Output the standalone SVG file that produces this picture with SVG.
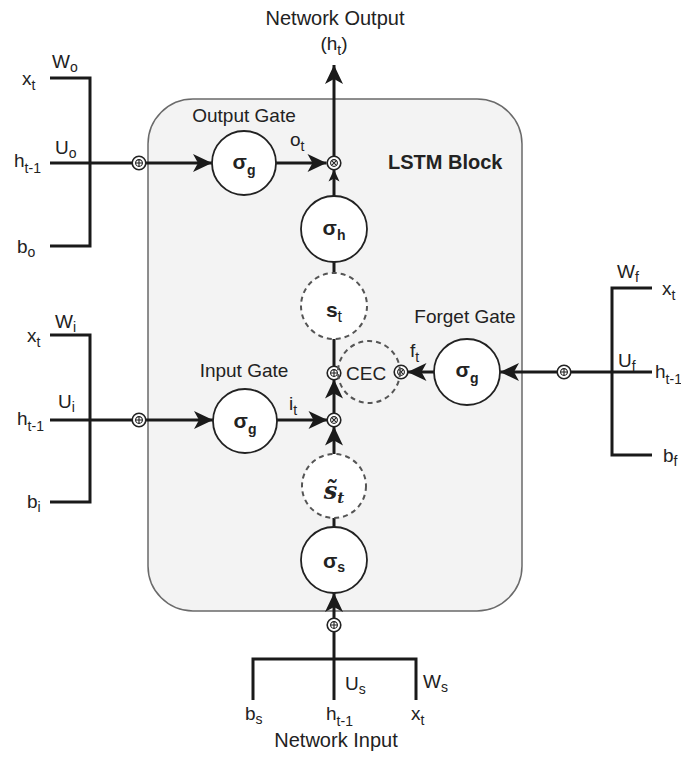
<svg xmlns="http://www.w3.org/2000/svg" width="681" height="757" viewBox="0 0 681 757">
<defs>
<style>
text{font-family:"Liberation Sans",Arial,sans-serif;fill:#222}
.lbl{font-size:19px}
.sub{font-size:14px}
.sig{font-size:21px;font-weight:bold}
.sigsub{font-size:14px;font-weight:bold}
.wire{stroke:#1a1a1a;stroke-width:3;fill:none}
.arr{stroke:#1a1a1a;stroke-width:3;fill:none;marker-end:url(#ah)}
.arrs{stroke:#1a1a1a;stroke-width:3;fill:none;marker-end:url(#ahs)}
.node{fill:#fff;stroke:#222;stroke-width:1.8}
.dash{fill:#fff;stroke:#555;stroke-width:2;stroke-dasharray:5 4}
.op{fill:#fff;stroke:#222;stroke-width:1.6}
.opi{fill:none;stroke:#222;stroke-width:1.1}
</style>
<marker id="ah" markerUnits="userSpaceOnUse" markerWidth="19" markerHeight="18" refX="19" refY="9" orient="auto" overflow="visible">
<path d="M0,0 L19,9 L0,18 L5,9 z" fill="#1a1a1a"/>
</marker>
<marker id="ahs" markerUnits="userSpaceOnUse" markerWidth="12" markerHeight="11" refX="12" refY="5.5" orient="auto" overflow="visible">
<path d="M0,0 L12,5.5 L0,11 L3,5.5 z" fill="#1a1a1a"/>
</marker>
<g id="plus"><circle r="6.8" class="op"/><circle r="3.4" class="opi"/><path d="M-3.4,0H3.4M0,-3.4V3.4" class="opi"/></g>
<g id="times"><circle r="6.8" class="op"/><circle r="3.4" class="opi"/><path d="M-2.4,-2.4L2.4,2.4M-2.4,2.4L2.4,-2.4" class="opi"/></g>
</defs>

<g id="lstm-block">
<rect x="148" y="99" width="374" height="512" rx="45" ry="45" fill="#f3f3f3" stroke="#6a6a6a" stroke-width="1.5"/>
<text x="388" y="169" style="font-size:20px;font-weight:bold">LSTM Block</text>
</g>

<g id="connectors">
<path class="wire" d="M50,78H90V246H50"/>
<path class="wire" d="M50,163H132.5"/>
<path class="arr" d="M145.5,163H212"/>
<path class="arr" d="M276,163H326.5"/>
<path class="arr" d="M334,156.5V65"/>
<path class="arrs" d="M334,196V169.5"/>
<path class="wire" d="M334,262V273"/>
<path class="wire" d="M334,339V366.5"/>
<path class="wire" d="M50,335H90V502H50"/>
<path class="wire" d="M50,420H132.5"/>
<path class="arr" d="M145.5,420H213"/>
<path class="arr" d="M277,420H327.5"/>
<path class="arr" d="M334,413.5V379.5"/>
<path class="arr" d="M334,454V426.5"/>
<path class="wire" d="M334,518V527"/>
<path class="arr" d="M334,618.5V593"/>
<path class="wire" d="M253,700V659H416V700"/>
<path class="wire" d="M334,631.5V700"/>
<path class="wire" d="M652,288H612V455H652"/>
<path class="wire" d="M652,372H570.5"/>
<path class="arr" d="M557.5,372H500"/>
<path class="arr" d="M434,372H407.5"/>
</g>

<g id="op-out-sum"><use href="#plus" x="139" y="163"/></g>
<g id="op-out-mul"><use href="#times" x="334" y="163"/></g>
<g id="op-in-sum"><use href="#plus" x="139" y="420"/></g>
<g id="op-in-mul"><use href="#times" x="334" y="420"/></g>
<g id="op-cec-sum"><use href="#plus" x="334" y="373"/></g>
<g id="op-forget-mul"><use href="#times" x="401" y="372"/></g>
<g id="op-forget-sum"><use href="#plus" x="564" y="372"/></g>
<g id="op-bottom-sum"><use href="#plus" x="334" y="625"/></g>

<g id="output-gate">
<circle cx="244" cy="163" r="32" class="node"/>
<text x="244" y="169" text-anchor="middle" class="sig">σ<tspan class="sigsub" dy="6">g</tspan></text>
<text x="244" y="122" text-anchor="middle" class="lbl">Output Gate</text>
<text x="290" y="146" class="lbl">o<tspan class="sub" dy="5">t</tspan></text>
</g>

<g id="sigma-h">
<circle cx="334" cy="229" r="33" class="node"/>
<text x="334" y="235" text-anchor="middle" class="sig">σ<tspan class="sigsub" dy="5">h</tspan></text>
</g>

<g id="state-st">
<circle cx="334" cy="306" r="33" class="dash"/>
<text x="334" y="317" text-anchor="middle" class="sig">s<tspan class="sigsub" dy="5" style="font-weight:normal;font-size:16px">t</tspan></text>
</g>

<g id="cec">
<circle cx="369" cy="372" r="31" fill="none" stroke="#555" stroke-width="2" stroke-dasharray="5 4"/>
<text x="346" y="380" class="lbl">CEC</text>
</g>

<g id="input-gate">
<circle cx="245" cy="421" r="32" class="node"/>
<text x="245" y="428" text-anchor="middle" class="sig">σ<tspan class="sigsub" dy="6">g</tspan></text>
<text x="244" y="377" text-anchor="middle" class="lbl">Input Gate</text>
<text x="289" y="410" class="lbl">i<tspan class="sub" dy="5">t</tspan></text>
</g>

<g id="candidate-state">
<circle cx="334" cy="486" r="32" class="dash"/>
<text x="334" y="499" text-anchor="middle" style="font-family:'DejaVu Serif','Liberation Serif',serif;font-size:24px;font-weight:bold;font-style:italic">s̃<tspan dy="4" style="font-size:15px">t</tspan></text>
</g>

<g id="sigma-s">
<circle cx="334" cy="560" r="33" class="node"/>
<text x="334" y="568" text-anchor="middle" class="sig">σ<tspan class="sigsub" dy="4">s</tspan></text>
</g>

<g id="forget-gate">
<circle cx="467" cy="372" r="33" class="node"/>
<text x="467" y="377" text-anchor="middle" class="sig">σ<tspan class="sigsub" dy="6">g</tspan></text>
<text x="465" y="323" text-anchor="middle" class="lbl">Forget Gate</text>
<text x="410" y="357" class="lbl">f<tspan class="sub" dy="5">t</tspan></text>
</g>

<g id="output-inputs">
<text x="22" y="85" class="lbl">x<tspan class="sub" dy="5">t</tspan></text>
<text x="52" y="68" class="lbl">W<tspan class="sub" dy="4">o</tspan></text>
<text x="55" y="154" class="lbl">U<tspan class="sub" dy="4">o</tspan></text>
<text x="14" y="167" class="lbl">h<tspan class="sub" dy="6">t-1</tspan></text>
<text x="17" y="253" class="lbl">b<tspan class="sub" dy="4">o</tspan></text>
</g>

<g id="input-inputs">
<text x="27" y="342" class="lbl">x<tspan class="sub" dy="5">t</tspan></text>
<text x="55" y="328" class="lbl">W<tspan class="sub" dy="4">i</tspan></text>
<text x="58" y="408" class="lbl">U<tspan class="sub" dy="4">i</tspan></text>
<text x="17" y="425" class="lbl">h<tspan class="sub" dy="6">t-1</tspan></text>
<text x="27" y="508" class="lbl">b<tspan class="sub" dy="4">i</tspan></text>
</g>

<g id="forget-inputs">
<text x="662" y="295" class="lbl">x<tspan class="sub" dy="5">t</tspan></text>
<text x="617" y="278" class="lbl">W<tspan class="sub" dy="4">f</tspan></text>
<text x="618" y="367" class="lbl">U<tspan class="sub" dy="4">f</tspan></text>
<text x="655" y="378" class="lbl">h<tspan class="sub" dy="6">t-1</tspan></text>
<text x="663" y="462" class="lbl">b<tspan class="sub" dy="4">f</tspan></text>
</g>

<g id="network-input">
<text x="245" y="720" class="lbl">b<tspan class="sub" dy="4">s</tspan></text>
<text x="326" y="720" class="lbl">h<tspan class="sub" dy="6">t-1</tspan></text>
<text x="411" y="720" class="lbl">x<tspan class="sub" dy="5">t</tspan></text>
<text x="345" y="690" class="lbl">U<tspan class="sub" dy="4">s</tspan></text>
<text x="423" y="688" class="lbl">W<tspan class="sub" dy="4">s</tspan></text>
<text x="336" y="747" text-anchor="middle" style="font-size:20px">Network Input</text>
</g>

<g id="network-output">
<text x="335" y="25" text-anchor="middle" style="font-size:20px">Network Output</text>
<text x="334" y="50" text-anchor="middle" class="lbl">(h<tspan class="sub" dy="5">t</tspan><tspan dy="-5">)</tspan></text>
</g>
</svg>
